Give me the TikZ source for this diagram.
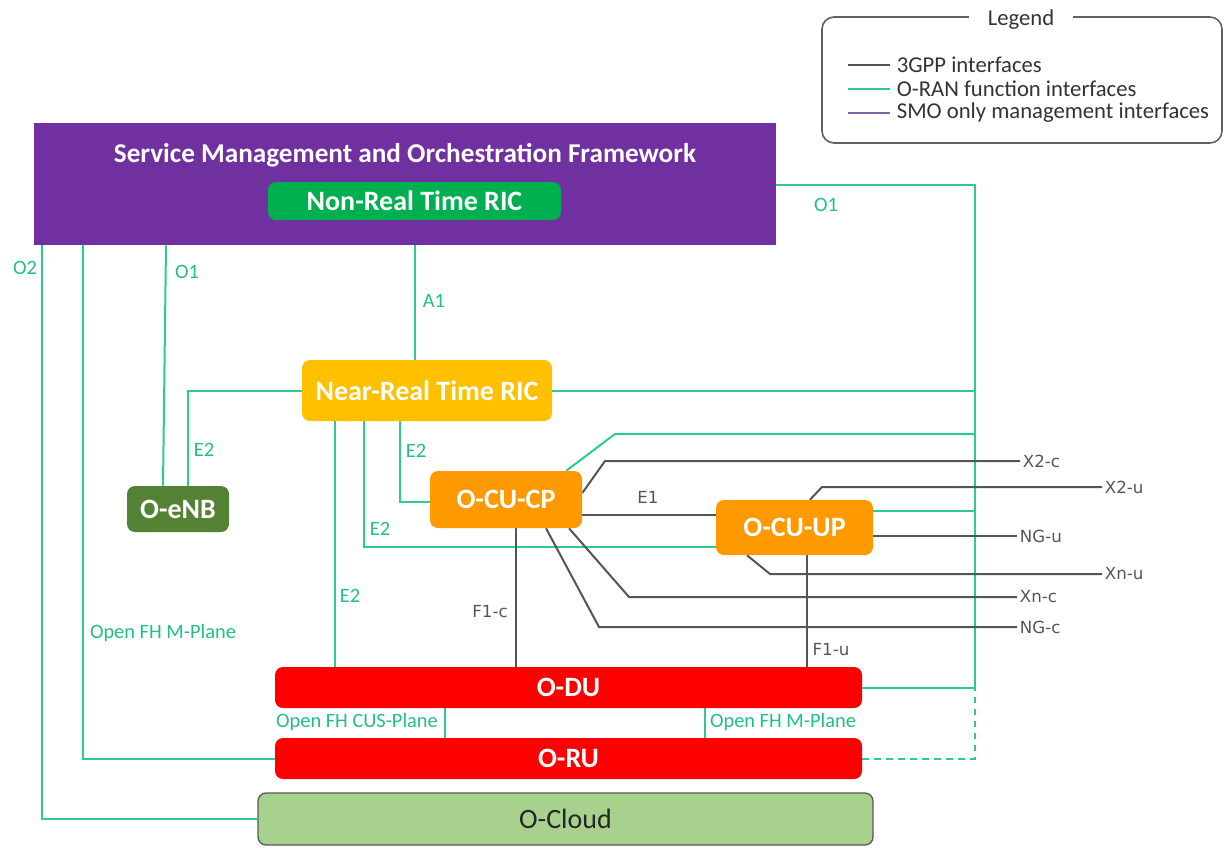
\documentclass[tikz,border=0pt]{standalone}
\usepackage{fontspec}
\setmainfont{Carlito}
\newfontfamily\grayfamily{DejaVu Sans}
\usetikzlibrary{fit,backgrounds}

\definecolor{smopurple}{HTML}{7030A0}
\definecolor{nrtgreen}{HTML}{00B050}
\definecolor{nearyellow}{HTML}{FFC000}
\definecolor{cuorange}{HTML}{FF9900}
\definecolor{enbgreen}{HTML}{548235}
\definecolor{dured}{HTML}{FF0000}
\definecolor{cloudgreen}{HTML}{A9D18E}
\definecolor{cloudedge}{HTML}{595959}
\definecolor{oranline}{HTML}{2CCB8E}
\definecolor{oranlabel}{HTML}{1FBF85}
\definecolor{gppline}{HTML}{555555}
\definecolor{smoline}{HTML}{8064A2}
\definecolor{legedge}{HTML}{606060}

\newcommand\titlefont{\fontsize{20.4}{24}\selectfont\bfseries}
\newcommand\blockfont{\fontsize{21}{24}\selectfont\bfseries}
\newcommand\orlabfont{\fontsize{15.3}{18}\selectfont}
\newcommand\gplabfont{\grayfamily\fontsize{12.5}{15}\selectfont}
\newcommand\legfont{\fontsize{17}{20}\selectfont}

\tikzset{
  orif/.style={draw=oranline, line width=1.5pt},
  gppif/.style={draw=gppline, line width=1.5pt},
  block/.style={rounded corners=6pt, inner sep=0pt, text=white, font=\blockfont},
  orlab/.style={text=oranlabel, font=\orlabfont, inner sep=2pt},
  gplab/.style={text=gppline, font=\gplabfont, inner sep=2pt},
  legtxt/.style={text=black!80, font=\legfont, inner sep=2pt, anchor=west},
}

\begin{document}
\begin{tikzpicture}[x=0.75pt, y=-0.75pt]
\useasboundingbox (0,0) rectangle (1224,847);

% ---------- blocks (sizes in pt, 1 unit = 0.75pt) ----------
\node[fill=smopurple, inner sep=0pt, fit={(34,123)(776,245)}] (smo) {};
\node[text=white, font=\titlefont] (smotitle) at (405,155) {Service Management and Orchestration Framework};
\node[block, fill=nrtgreen, minimum width=219.75pt, minimum height=28.5pt] (nonrt) at (414.5,201) {Non-Real Time RIC};
\node[block, fill=nearyellow, minimum width=187.5pt, minimum height=45.75pt] (nearrt) at (427,390.5) {Near-Real Time RIC};
\node[block, fill=enbgreen, minimum width=76.5pt, minimum height=34.5pt] (enb) at (178,509) {O-eNB};
\node[block, fill=cuorange, minimum width=114pt, minimum height=42.75pt] (cucp) at (506,499.5) {O-CU-CP};
\node[block, fill=cuorange, minimum width=117.75pt, minimum height=41.25pt] (cuup) at (794.5,527.5) {O-CU-UP};
\node[block, fill=dured, minimum width=440.25pt, minimum height=30.75pt] (odu) at (568.5,687.5) {O-DU};
\node[block, fill=dured, minimum width=440.25pt, minimum height=30.75pt] (oru) at (568.5,758.5) {O-RU};
\node[block, fill=cloudgreen, draw=cloudedge, line width=1pt, text=black!85,
      font=\fontsize{21}{24}\selectfont, minimum width=461.25pt, minimum height=39pt] (ocloud) at (565.5,819) {O-Cloud};

% ---------- labels of the 3GPP interfaces ----------
\node[gplab, anchor=west] (x2c) at (1020,461) {X2-c};
\node[gplab, anchor=west] (x2u) at (1102,487) {X2-u};
\node[gplab, anchor=west] (ngu) at (1017,536) {NG-u};
\node[gplab, anchor=west] (xnu) at (1102,574) {Xn-u};
\node[gplab, anchor=west] (xnc) at (1017,597) {Xn-c};
\node[gplab, anchor=west] (ngc) at (1017,627) {NG-c};
\node[gplab] (e1) at (648,497) {E1};
\node[gplab] (f1c) at (490,612) {F1-c};
\node[gplab] (f1u) at (831,650) {F1-u};

% ---------- labels of the O-RAN interfaces ----------
\node[orlab] (lo2) at (25,268) {O2};
\node[orlab] (lo1a) at (187,272) {O1};
\node[orlab] (lo1b) at (826,205) {O1};
\node[orlab] (la1) at (434,301) {A1};
\node[orlab] (le2a) at (204,450) {E2};
\node[orlab] (le2b) at (416,451) {E2};
\node[orlab] (le2c) at (380,529) {E2};
\node[orlab] (le2d) at (350,596) {E2};
\node[orlab] (lfhm1) at (163,633) {Open FH M-Plane};
\node[orlab] (lcus) at (357,722) {Open FH CUS-Plane};
\node[orlab] (lfhm2) at (783,722) {Open FH M-Plane};

% ---------- bus on the right ----------
\coordinate (busT) at (975,185);

\begin{scope}[on background layer]
  % O-RAN function interfaces
  \draw[orif] (smo.south -| 42,0) |- (ocloud.west);
  \draw[orif] (smo.south -| 83,0) |- (oru.west);
  \draw[orif] (smo.south -| 166,0) -- (enb.north -| 163,0);
  \draw[orif] (nonrt.south) -- (nonrt.south |- nearrt.north);
  \draw[orif] (nearrt.west) -| (enb.north -| 188,0);
  \draw[orif] (nearrt.south -| 400,0) |- (cucp.west |- 0,502);
  \draw[orif] (nearrt.south -| 364,0) |- (cuup.west |- 0,547);
  \draw[orif] (nearrt.south -| 335,0) -- (odu.north -| 335,0);
  \draw[orif] (smo.east |- busT) -- (busT) -- (busT |- odu.east) -- (odu.east);
  \draw[orif] (nearrt.east) -- (nearrt.east -| busT);
  \draw[orif] ([xshift=-12pt]cucp.north east) -- (615,434) -- (busT |- 0,434);
  \draw[orif] (cuup.east |- 0,511) -- (busT |- 0,511);
  \draw[orif, dash pattern=on 5pt off 4pt] (oru.east) -- (oru.east -| busT) -- (busT |- odu.east);
  \draw[orif] (odu.south -| 445,0) -- (oru.north -| 445,0);
  \draw[orif] (odu.south -| 705,0) -- (oru.north -| 705,0);

  % 3GPP interfaces
  \draw[gppif] (cucp.east |- 0,493) -- (605,461) -- (x2c.west);
  \draw[gppif] (cucp.east |- 0,515) -- (cuup.west |- 0,515);
  \draw[gppif] (cuup.north -| 810,0) -- (822,487) -- (x2u.west);
  \draw[gppif] (cuup.east |- ngu.west) -- (ngu.west);
  \draw[gppif] (cuup.south -| 747,0) -- (770,574) -- (xnu.west);
  \draw[gppif] (cucp.south -| 569,0) -- (629,597) -- (xnc.west);
  \draw[gppif] (cucp.south -| 546,0) -- (599,627) -- (ngc.west);
  \draw[gppif] (cucp.south -| 516,0) -- (odu.north -| 516,0);
  \draw[gppif] (cuup.south -| 807,0) -- (odu.north -| 807,0);
\end{scope}

% ---------- legend ----------
\node[draw=legedge, line width=1.2pt, rounded corners=9pt, inner sep=0pt,
      fit={(822,17)(1222,143)}] (legend) {};
\node[fill=white, inner xsep=14pt, inner ysep=1pt, text=black!80, font=\legfont] (legtitle) at (1021,20) {Legend};
\node[legtxt] (leg1) at (894,65) {3GPP interfaces};
\node[legtxt] (leg2) at (894,89) {O-RAN function interfaces};
\node[legtxt] (leg3) at (894,113) {SMO only management interfaces};
\draw[gppif] ([xshift=-34.5pt]leg1.west) -- ([xshift=-3pt]leg1.west);
\draw[orif] ([xshift=-34.5pt]leg2.west) -- ([xshift=-3pt]leg2.west);
\draw[draw=smoline, line width=1.5pt] ([xshift=-34.5pt]leg3.west) -- ([xshift=-3pt]leg3.west);
\end{tikzpicture}
\end{document}
